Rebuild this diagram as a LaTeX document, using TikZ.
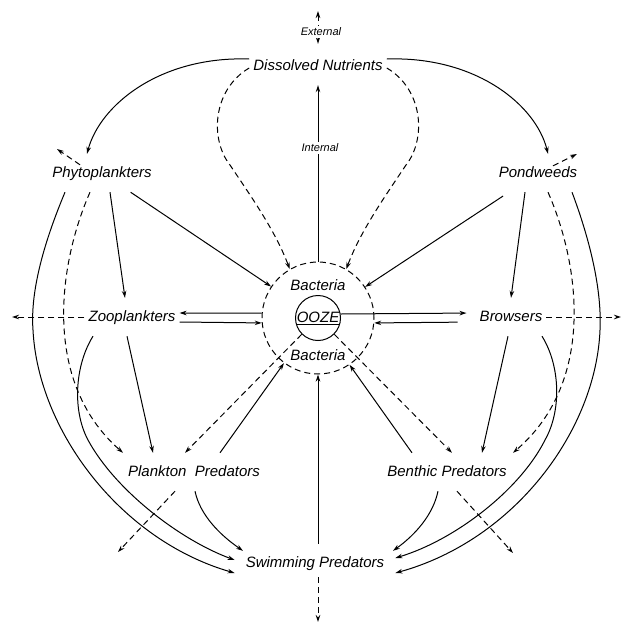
\documentclass[tikz,border=0pt]{standalone}
\usepackage{fontspec}
\setmainfont{Liberation Sans}
\usetikzlibrary{arrows.meta}
\newcommand\lbf{\itshape\fontsize{15}{18}\selectfont}
\begin{document}
\begin{tikzpicture}[x=1pt,y=-1pt,
  >={Stealth[length=7pt,width=4.5pt]},
  ln/.style={line width=1pt},
  dsh/.style={dash pattern=on 6pt off 4pt},
  lab/.style={font=\lbf, inner xsep=4pt, inner ysep=12pt, text height=11pt, text depth=3pt},
  smalllab/.style={font=\itshape\fontsize{11}{13}\selectfont, fill=white, inner sep=1.5pt}
]
\useasboundingbox (0,0) rectangle (623,627);

% nodes
\node[lab] (dn) at (318,66) {Dissolved Nutrients};
\node[lab] (phy) at (102,173) {Phytoplankters};
\node[lab] (pond) at (538,173) {Pondweeds};
\node[lab] (zoo) at (132,317) {Zooplankters};
\node[lab] (brow) at (511,317) {Browsers};
\node[lab] (pp) at (194,472) {Plankton\ \ Predators};
\node[lab] (bp) at (447,472) {Benthic Predators};
\node[lab, inner xsep=11pt] (sp) at (315,563) {Swimming Predators};
\node[circle, draw, ln, dsh, minimum size=112pt, inner sep=0pt] (bigc) at (318,318) {};
\node[circle, draw, ln, minimum size=45pt, inner sep=0pt, font=\lbf] (ooze) at (318,318) {\underline{OOZE}};
\node[font=\lbf] (bac1) at (318,285) {Bacteria};
\node[font=\lbf] (bac2) at (318,355) {Bacteria};

% free ends
\coordinate (extTop) at (318,11);
\coordinate (phyOut) at (57,149);
\coordinate (pondOut) at (577,154);
\coordinate (zooOut) at (12,317);
\coordinate (browOut) at (621,317);
\coordinate (ppOut) at (118,552);
\coordinate (bpOut) at (513,553);
\coordinate (spOut) at (318,622);

% external / internal
\draw[ln,dsh,<->,shorten >=3pt] (extTop) -- (dn.north);
\node[smalllab] (ext) at (321,32) {External};
\draw[ln,->] (bigc.north) -- (dn.south);
\node[smalllab] (int) at (320,148) {Internal};

% nutrients to producers
\draw[ln,->] ([yshift=7pt]dn.west) .. controls (160,56) and (100,105) .. ([xshift=-15pt]phy.north);
\draw[ln,->] ([yshift=7pt]dn.east) .. controls (476,56) and (536,105) .. ([xshift=10pt]pond.north);
\draw[ln,dsh,->] ([yshift=-2pt]dn.west) .. controls (212,90) and (210,140) .. (230,165) .. controls (250,195) and (275,230) .. (bigc.120);
\draw[ln,dsh,->] ([yshift=-2pt]dn.east) .. controls (424,90) and (426,140) .. (406,165) .. controls (386,195) and (361,230) .. (bigc.60);

% producers
\draw[ln,dsh,->] ([xshift=-22pt,yshift=-11pt]phy.north) -- (phyOut);
\draw[ln,dsh,->] ([xshift=15pt,yshift=-12pt]pond.north) -- (pondOut);
\draw[ln,->] (phy) -- (bigc);
\draw[ln,->,shorten <=7pt] (pond) -- (bigc);
\draw[ln,->] ([xshift=8pt]phy.south) -- ([xshift=-7pt]zoo.north);
\draw[ln,->] ([xshift=-13pt]pond.south) -- (brow.north);

% ooze exchanges
\draw[ln,->] (bigc.175) -- ([yshift=4pt]zoo.east);
\draw[ln,->] ([yshift=-5pt]zoo.east) -- (bigc.185);
\draw[ln,->,shorten >=9pt] ([yshift=4pt]ooze.east) -- ([yshift=4pt]brow.west);
\draw[ln,->,shorten <=18pt] ([yshift=-5pt]brow.west) -- (bigc.-5);
\draw[ln,dsh,->] (zoo.west) -- (zooOut);
\draw[ln,dsh,->] (brow.east) -- (browOut);

% consumers
\draw[ln,->] ([xshift=-5pt]zoo.south) -- ([xshift=-41pt]pp.north);
\draw[ln,->] ([xshift=-3pt]brow.south) -- ([xshift=35pt]bp.north);
\draw[ln,dsh,->] ([xshift=-12pt]phy.south) .. controls (60,260) and (40,380) .. ([xshift=-71pt]pp.north);
\draw[ln,dsh,->] ([xshift=10pt]pond.south) .. controls (578,260) and (598,380) .. ([xshift=66pt]bp.north);
\draw[ln,->] ([xshift=-37pt]phy.south) .. controls (45,240) and (30,290) .. (33,330) .. controls (38,430) and (120,540) .. ([yshift=-10pt]sp.west);
\draw[ln,->] ([xshift=-39pt]zoo.south) .. controls (75,365) and (72,410) .. (88,440) .. controls (115,490) and (180,540) .. ([yshift=3pt]sp.west);
\draw[ln,->] ([xshift=31pt]brow.south) .. controls (560,365) and (562,410) .. (545,440) .. controls (520,490) and (455,540) .. ([yshift=5pt]sp.east);
\draw[ln,->] ([xshift=34pt]pond.south) .. controls (590,240) and (602,290) .. (600,330) .. controls (596,430) and (515,540) .. ([yshift=-10pt]sp.east);
\draw[ln,->] ([xshift=1pt]pp.south) .. controls (200,515) and (220,535) .. ([xshift=-72pt,yshift=-7pt]sp.north);
\draw[ln,->] ([xshift=-9pt]bp.south) .. controls (433,515) and (415,535) .. ([xshift=78pt,yshift=-7pt]sp.north);
\draw[ln,dsh,->] ([xshift=-19pt]pp.south) -- (ppOut);
\draw[ln,dsh,->] ([xshift=10pt]bp.south) -- (bpOut);
\draw[ln,dsh,->] ([xshift=3pt,yshift=5pt]sp.south) -- (spOut);

% return to ooze
\draw[ln,->] ([xshift=3pt]sp.north) -- (bigc.south);
\draw[ln,->] ([xshift=26pt]pp.north) -- (bigc.233);
\draw[ln,dsh,->] (ooze.225) -- ([xshift=-9pt]pp.north);
\draw[ln,->] ([xshift=-35pt]bp.north) -- (bigc.-56);
\draw[ln,dsh,->] (ooze.-45) -- ([xshift=5pt]bp.north);
\end{tikzpicture}
\end{document}
